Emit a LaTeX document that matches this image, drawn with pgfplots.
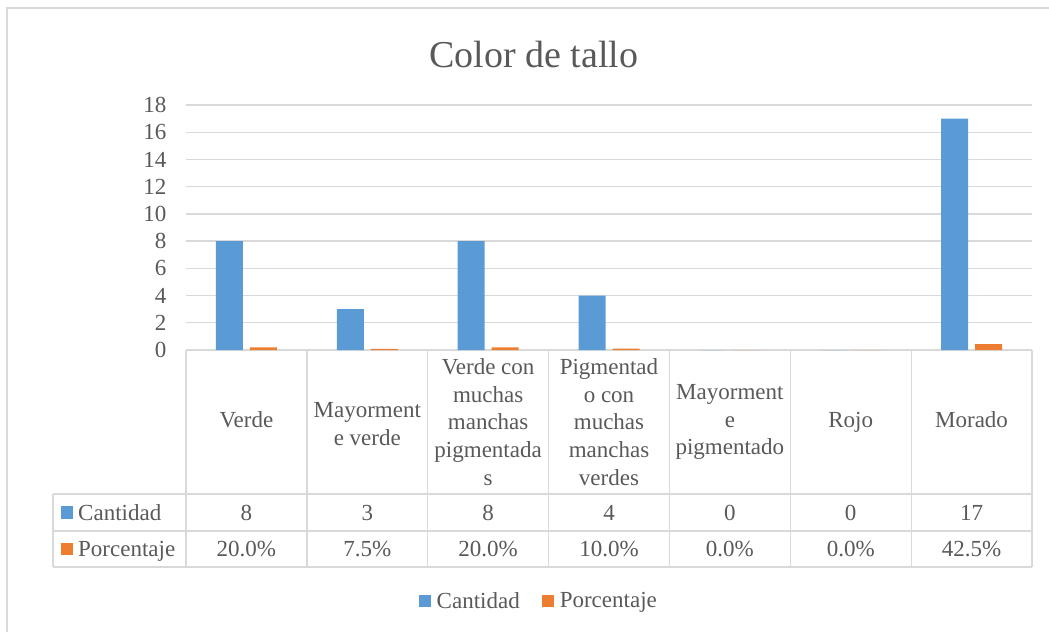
\documentclass[border=0pt]{standalone}
\usepackage{pgfplots}
\pgfplotsset{compat=1.18}
\usepackage{fontspec}
\setmainfont{Liberation Serif}
\definecolor{cblue}{HTML}{5B9BD5}
\definecolor{corange}{HTML}{ED7D31}
\definecolor{txt}{HTML}{595959}
\definecolor{gridc}{HTML}{D9D9D9}
\newcommand{\tf}{\fontsize{23}{27.7}\selectfont}
\tikzset{cell/.style={anchor=base, text=txt, font=\tf}}

\begin{document}
\begin{tikzpicture}[x=1pt,y=1pt]
\useasboundingbox (0,0) rectangle (1049,632);
\draw[gridc, line width=1.2pt] (7,0) -- (7,624) -- (1049,624);
\node[txt, font=\fontsize{38}{46}\selectfont] at (534,577) {Color de tallo};

\begin{axis}[
  at={(186pt,282pt)}, anchor=south west,
  scale only axis, width=846pt, height=245pt,
  xmin=-0.5, xmax=6.5, ymin=0, ymax=18,
  ytick={0,2,...,18},
  xtick={0,...,6},
  xticklabels={\strut Verde,{\strut Mayorment\\e verde},{Verde con\\muchas\\manchas\\pigmentada\\s},
    {Pigmentad\\o con\\muchas\\manchas\\verdes},{Mayorment\\e\\pigmentado},\strut Rojo,\strut Morado},
  xticklabel style={align=center, anchor=center, yshift=-72pt, text=txt, font=\tf},
  yticklabel style={xshift=-16pt, text=txt, font=\tf},
  /pgf/number format/assume math mode=true,
  major tick length=0pt,
  axis line style={draw=none},
  ymajorgrids, grid style={gridc, line width=1.3pt},
  ybar=7pt, bar width=27pt,
  clip=false,
  legend style={at={(0.417,-1.024)}, anchor=center, draw=none, fill=none,
    legend columns=2, font=\tf, text=txt,
    /tikz/every even column/.append style={column sep=20pt}},
  legend image code/.code={\fill[#1] (0pt,-6pt) rectangle (12pt,6pt); \path (16pt,0pt);},
]
\addplot[fill=cblue, draw=none] coordinates {(0,8) (1,3) (2,8) (3,4) (4,0) (5,0) (6,17)};
\addplot[fill=corange, draw=none] coordinates {(0,0.2) (1,0.075) (2,0.2) (3,0.1) (4,0) (5,0) (6,0.425)};
\legend{Cantidad,Porcentaje}

% data table: Cantidad row
\node[cell, yshift=-170pt] at (axis cs:0,0) {8};
\node[cell, yshift=-170pt] at (axis cs:1,0) {3};
\node[cell, yshift=-170pt] at (axis cs:2,0) {8};
\node[cell, yshift=-170pt] at (axis cs:3,0) {4};
\node[cell, yshift=-170pt] at (axis cs:4,0) {0};
\node[cell, yshift=-170pt] at (axis cs:5,0) {0};
\node[cell, yshift=-170pt] at (axis cs:6,0) {17};
% Porcentaje row
\node[cell, yshift=-206pt] at (axis cs:0,0) {20.0\%};
\node[cell, yshift=-206pt] at (axis cs:1,0) {7.5\%};
\node[cell, yshift=-206pt] at (axis cs:2,0) {20.0\%};
\node[cell, yshift=-206pt] at (axis cs:3,0) {10.0\%};
\node[cell, yshift=-206pt] at (axis cs:4,0) {0.0\%};
\node[cell, yshift=-206pt] at (axis cs:5,0) {0.0\%};
\node[cell, yshift=-206pt] at (axis cs:6,0) {42.5\%};
\end{axis}

% table borders
\begin{scope}[gridc, line width=1.3pt]
\draw (53,138) -- (1032,138);
\draw (53,101) -- (1032,101);
\draw (53,65) -- (1032,65);
\draw (53,138) -- (53,65);
\foreach \k in {0,...,7}{\draw ({186+120.857*\k},282) -- ({186+120.857*\k},65);}
\end{scope}
\fill[cblue] (61,113.5) rectangle (73,125.5);
\fill[corange] (61,77) rectangle (73,89);
\node[anchor=base west, inner sep=0pt, text=txt, font=\tf] at (78,112) {Cantidad};
\node[anchor=base west, inner sep=0pt, text=txt, font=\tf] at (78,76) {Porcentaje};
\end{tikzpicture}
\end{document}
